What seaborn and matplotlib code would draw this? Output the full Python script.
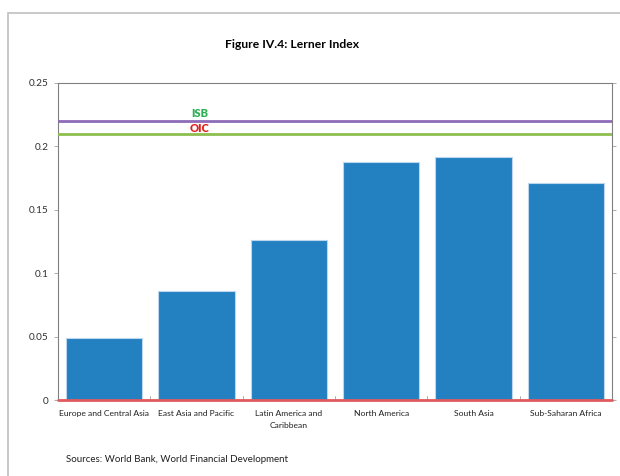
import matplotlib
matplotlib.use("Agg")
import matplotlib.pyplot as plt
import seaborn as sns
import pandas as pd
from matplotlib.patches import Rectangle

regions = ["Europe and Central Asia", "East Asia and Pacific", "Latin America and\nCaribbean",
           "North America", "South Asia", "Sub-Saharan Africa"]
lerner = [0.049, 0.086, 0.126, 0.188, 0.192, 0.171]
isb_level = 0.22
oic_level = 0.21
yticks = [0, 0.05, 0.1, 0.15, 0.2, 0.25]
ytick_labels = ["0", "0.05", "0.1", "0.15", "0.2", "0.25"]

sns.set_theme(style="white")
plt.rcParams['font.family'] = ['Lato', 'DejaVu Sans']

df = pd.DataFrame({"region": regions, "lerner": lerner})

fig = plt.figure(figsize=(6.2, 4.76), dpi=100)
ax = fig.add_axes([58/620, 1-400/476, (612-58)/620, (400-83)/476])

sns.barplot(data=df, x="region", y="lerner", color="#2381c2", saturation=1,
            width=0.83, edgecolor="#bcd6ee", linewidth=0.8, ax=ax)

ax.set_xlim(-0.5, len(regions)-0.5)
ax.set_ylim(0, 0.25)
ax.axhline(isb_level, color="#8e6bb8", lw=2, zorder=3)
ax.axhline(oic_level, color="#8cbf4e", lw=2, zorder=3)
ax.axhline(0, color="#e05a5e", lw=2, zorder=4, clip_on=False)

ax.text(1.03, isb_level + 0.0058, "ISB", color="#2fb055", fontsize=8, fontweight="heavy",
        ha="center", va="center")
ax.text(1.03, oic_level + 0.0040, "OIC", color="#e0201c", fontsize=8, fontweight="heavy",
        ha="center", va="center")

ax.set_xlabel("")
ax.set_ylabel("")
ax.set_yticks(yticks)
ax.set_yticklabels(ytick_labels, fontsize=7.2, color="#303030")
ax.set_xticks(range(len(regions)))
ax.set_xticklabels(regions, fontsize=6.1, color="#202020", linespacing=1.75)
ax.tick_params(axis="x", length=0, pad=7.5)
ax.tick_params(axis="y", length=3, width=0.6, color="#a0a0a0", direction="out", pad=4,
               left=True, right=True, labelright=True)
for b in [0.5, 1.5, 2.5, 3.5, 4.5]:
    ax.plot([b, b], [0, 0.003], color="#a0a0a0", lw=0.6, zorder=2)

for s in ["left", "right", "top"]:
    ax.spines[s].set_visible(True)
    ax.spines[s].set_color("#808080")
    ax.spines[s].set_linewidth(0.8)
ax.spines["bottom"].set_visible(False)

fig.text(292/620, 1-45/476, "Figure IV.4: Lerner Index", fontsize=8.7, fontweight="bold",
         ha="center", va="center", color="#000000")
fig.text(66/620, 1-459/476, "Sources: World Bank, World Financial Development", fontsize=7,
         ha="left", va="center", color="#202020")

fig.patches.append(Rectangle((8/620, -0.1), 1.2, 1-13/476+0.1, transform=fig.transFigure,
                             fill=False, edgecolor="#bfbfbf", lw=1.2))

fig.savefig("out.png", dpi=100)
